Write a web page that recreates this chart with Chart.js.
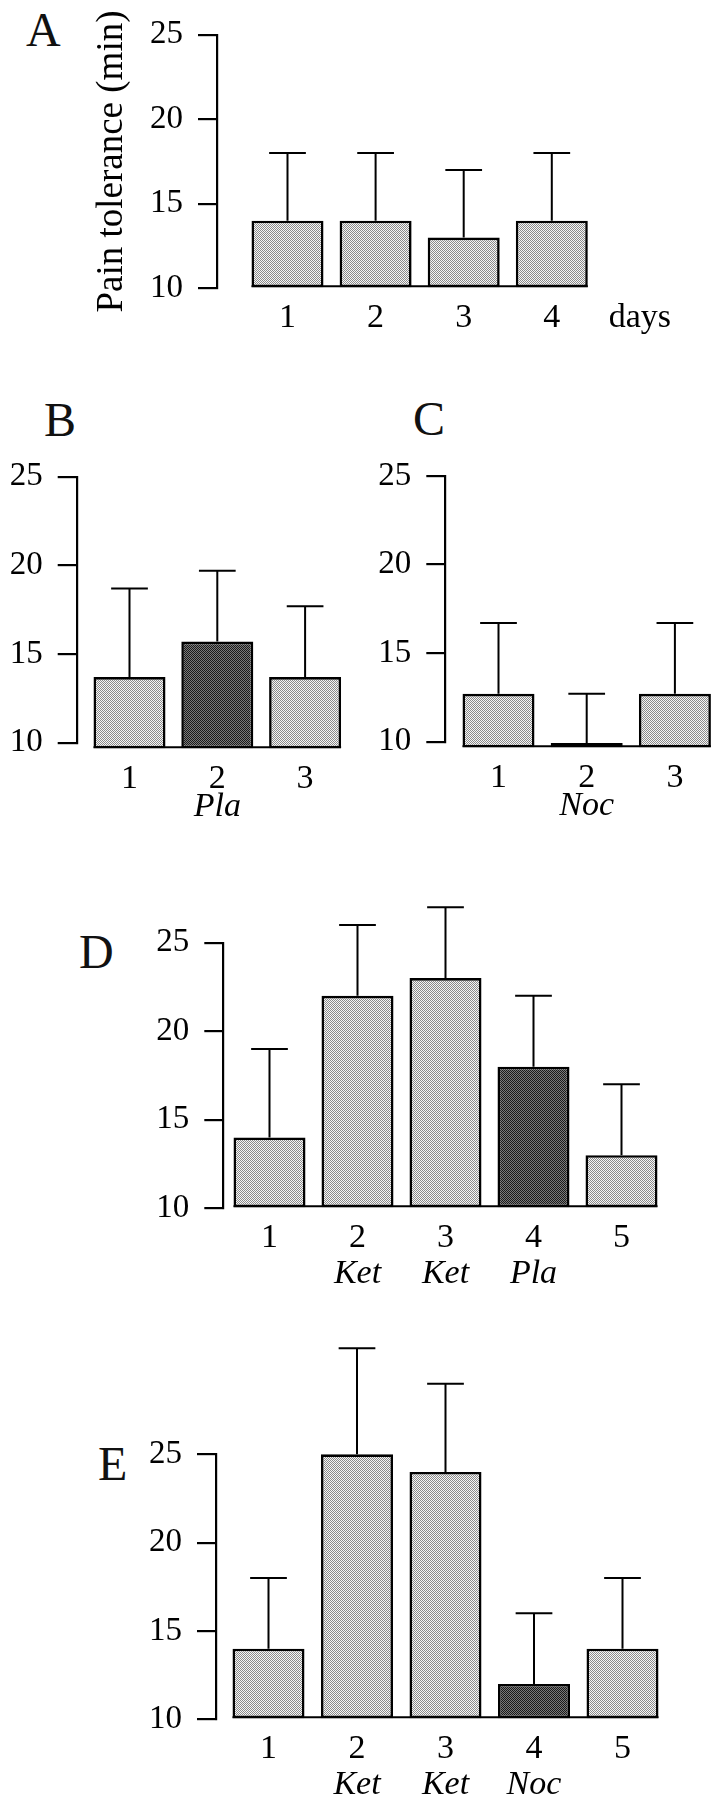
<!DOCTYPE html>
<html>
<head>
<meta charset="utf-8">
<script src="https://cdn.jsdelivr.net/npm/chart.js@4.4.1/dist/chart.umd.min.js"></script>
<style>
  html, body { margin: 0; padding: 0; background: #fff; }
  body { width: 716px; height: 1800px; position: relative; overflow: hidden; }
  canvas.panel { position: absolute; }
  .letter { position: absolute; font-family: 'Liberation Serif', 'Times New Roman', serif;
            font-size: 48px; line-height: 1; color: #111; }
</style>
</head>
<body>
<div class="letter" style="left:26px;top:6px">A</div>
<div class="letter" style="left:44px;top:396px">B</div>
<div class="letter" style="left:413px;top:395px">C</div>
<div class="letter" style="left:79px;top:928px">D</div>
<div class="letter" style="left:98px;top:1440px">E</div>

<canvas id="cA" class="panel"></canvas>
<canvas id="cB" class="panel"></canvas>
<canvas id="cC" class="panel"></canvas>
<canvas id="cD" class="panel"></canvas>
<canvas id="cE" class="panel"></canvas>

<script>
// ---------------- data ----------------
const yTicks = [10, 15, 20, 25];
const yTitleA = 'Pain tolerance (min)';

const labelsA = ['1', '2', '3', '4', 'days'];
const subA = [];
const valuesA = [14, 14, 13, 14];
const errA = [18, 18, 17, 18];
const shadeA = ['light', 'light', 'light', 'light'];

const labelsB = ['1', '2', '3'];
const subB = ['', 'Pla', ''];
const valuesB = [13.7, 15.7, 13.7];
const errB = [18.7, 19.7, 17.7];
const shadeB = ['light', 'dark', 'light'];

const labelsC = ['1', '2', '3'];
const subC = ['', 'Noc', ''];
const valuesC = [12.7, 9.92, 12.7];
const errC = [16.7, 12.7, 16.7];
const shadeC = ['light', 'dark', 'light'];

const labelsD = ['1', '2', '3', '4', '5'];
const subD = ['', 'Ket', 'Ket', 'Pla', ''];
const valuesD = [14, 22, 23, 18, 13];
const errD = [19, 26, 27, 22, 17];
const shadeD = ['light', 'light', 'light', 'dark', 'light'];

const labelsE = ['1', '2', '3', '4', '5'];
const subE = ['', 'Ket', 'Ket', 'Noc', ''];
const valuesE = [14, 25, 24, 12, 14];
const errE = [18, 31, 29, 16, 18];
const shadeE = ['light', 'light', 'light', 'dark', 'light'];

const baseStd = 10;     // bars start at the 10 tick
const baseBC = 9.68;    // in B and C the bars start slightly below the 10 tick

// ---------------- rendering ----------------
Chart.defaults.font.family = "'Liberation Serif', 'Times New Roman', serif";
Chart.defaults.color = '#000';

function makePattern(bg, dot) {
  const c = document.createElement('canvas');
  c.width = 2; c.height = 2;
  const g = c.getContext('2d');
  g.fillStyle = bg; g.fillRect(0, 0, 2, 2);
  g.fillStyle = dot; g.fillRect(0, 0, 1, 1); g.fillRect(1, 1, 1, 1);
  return g.createPattern(c, 'repeat');
}

const errorBars = {
  id: 'errorBars',
  afterDatasetsDraw(chart, args, opts) {
    const meta = chart.getDatasetMeta(0);
    const ys = chart.scales.y;
    const ctx = chart.ctx;
    const els = meta.data.map(e => e.getProps(['x', 'y', 'base', 'width'], true));
    ctx.save();
    ctx.strokeStyle = '#000';
    ctx.lineWidth = 2;
    const f = els[0], l = els[els.length - 1];
    ctx.beginPath();
    ctx.moveTo(f.x - f.width / 2, f.base - 1);
    ctx.lineTo(l.x + l.width / 2, f.base - 1);
    ctx.stroke();
    els.forEach((el, i) => {
      const yT = ys.getPixelForValue(opts.errs[i]);
      const cw = el.width * 0.51;
      ctx.beginPath();
      ctx.moveTo(el.x, el.y);
      ctx.lineTo(el.x, yT);
      ctx.moveTo(el.x - cw / 2, yT);
      ctx.lineTo(el.x + cw / 2, yT);
      ctx.stroke();
    });
    ctx.restore();
  }
};

function panel(id, g, d) {
  const canvas = document.getElementById(id);
  canvas.width = g.cw; canvas.height = g.ch;
  canvas.style.left = g.cx + 'px'; canvas.style.top = g.cy + 'px';
  const hasSub = d.sub.length > 0;
  const yW = g.axisX - g.cx;
  const xMin = 1 - (g.first - g.axisX) / g.unit;
  const areaW = (g.xMax - xMin) * g.unit;
  const pad = {
    left: 0,
    top: g.y25 - g.cy,
    right: g.cw - yW - areaW,
    bottom: g.ch - (g.y10 - g.cy) - g.xH - (hasSub ? g.x2H : 0)
  };
  const pats = { light: makePattern('#f6f6f6', '#8a8a8a'), dark: makePattern('#7a7a7a', '#1a1a1a') };

  const scales = {
    x: {
      type: 'linear', position: 'bottom', weight: 0, min: xMin, max: g.xMax, offset: false,
      grid: { display: false, drawTicks: false }, border: { display: false },
      afterBuildTicks: s => { s.ticks = d.labels.map((_, i) => ({ value: i + 1 })); },
      afterFit: s => { s.height = g.xH; },
      ticks: { autoSkip: false, maxRotation: 0, minRotation: 0, padding: g.xPad,
               font: { size: 34, lineHeight: 0.9 }, color: '#000',
               callback: v => d.labels[Math.round(v) - 1] ?? '' }
    },
    y: {
      type: 'linear', position: 'left', min: 10, max: 25, beginAtZero: false,
      afterBuildTicks: s => { s.ticks = yTicks.map(v => ({ value: v })); },
      afterFit: s => { s.width = yW; },
      grid: { display: true, drawOnChartArea: false, drawTicks: true, tickLength: 19,
              color: '#000', lineWidth: 2.2 },
      border: { display: true, color: '#000', width: 2.2 },
      ticks: { padding: 15, font: { size: 33 }, color: '#000' },
      title: d.title ? { display: true, text: d.title, font: { size: 37 }, color: '#000',
                         padding: { top: 90, bottom: 0 } } : { display: false }
    }
  };
  if (hasSub) {
    scales.x2 = {
      type: 'linear', position: 'bottom', weight: 1, min: xMin, max: g.xMax, offset: false,
      grid: { display: false, drawTicks: false }, border: { display: false },
      afterBuildTicks: s => { s.ticks = d.sub.map((_, i) => ({ value: i + 1 })); },
      afterFit: s => { s.height = g.x2H; },
      ticks: { autoSkip: false, maxRotation: 0, minRotation: 0, padding: g.x2Pad,
               font: { size: 34, style: 'italic', lineHeight: 0.9 }, color: '#000',
               callback: v => d.sub[Math.round(v) - 1] ?? '' }
    };
  }

  return new Chart(canvas, {
    type: 'bar',
    data: {
      datasets: [{
        data: d.values.map((v, i) => ({ x: i + 1, y: v })),
        backgroundColor: d.shade.map(s => pats[s]),
        borderColor: '#000',
        borderWidth: 2.6,
        borderSkipped: false,
        base: d.base,
        clip: false,
        categoryPercentage: 1,
        barPercentage: 72 / g.unit
      }]
    },
    options: {
      responsive: false, animation: false, devicePixelRatio: 1,
      layout: { padding: pad },
      events: [],
      plugins: { legend: { display: false }, tooltip: { enabled: false },
                 errorBars: { errs: d.errs } },
      scales
    },
    plugins: [errorBars]
  });
}

panel('cA', { cx: 0, cy: 0, cw: 716, ch: 345, axisX: 217, y25: 23.3, y10: 288.3,
              first: 287.5, unit: 88.1, xMax: 5.6, xH: 50, xPad: 14.5 },
      { labels: labelsA, sub: subA, values: valuesA, errs: errA, shade: shadeA, base: baseStd, title: yTitleA });
panel('cB', { cx: 0, cy: 380, cw: 358, ch: 450, axisX: 76.7, y25: 476.7, y10: 742.7,
              first: 129.5, unit: 87.8, xMax: 3.6, xH: 48, xPad: 21, x2H: 29, x2Pad: 1 },
      { labels: labelsB, sub: subB, values: valuesB, errs: errB, shade: shadeB, base: baseBC });
panel('cC', { cx: 358, cy: 380, cw: 358, ch: 450, axisX: 445.3, y25: 476, y10: 741.7,
              first: 498.5, unit: 88.2, xMax: 3.45, xH: 48, xPad: 21, x2H: 29, x2Pad: 1 },
      { labels: labelsC, sub: subC, values: valuesC, errs: errC, shade: shadeC, base: baseBC });
panel('cD', { cx: 0, cy: 880, cw: 716, ch: 420, axisX: 223.3, y25: 942.7, y10: 1208.3,
              first: 269.5, unit: 88, xMax: 5.7, xH: 42, xPad: 14.5, x2H: 36, x2Pad: 8 },
      { labels: labelsD, sub: subD, values: valuesD, errs: errD, shade: shadeD, base: baseStd });
panel('cE', { cx: 0, cy: 1330, cw: 716, ch: 470, axisX: 216, y25: 1454.3, y10: 1719.3,
              first: 268.5, unit: 88.5, xMax: 5.7, xH: 42, xPad: 14.5, x2H: 36, x2Pad: 8 },
      { labels: labelsE, sub: subE, values: valuesE, errs: errE, shade: shadeE, base: baseStd });
</script>
</body>
</html>
